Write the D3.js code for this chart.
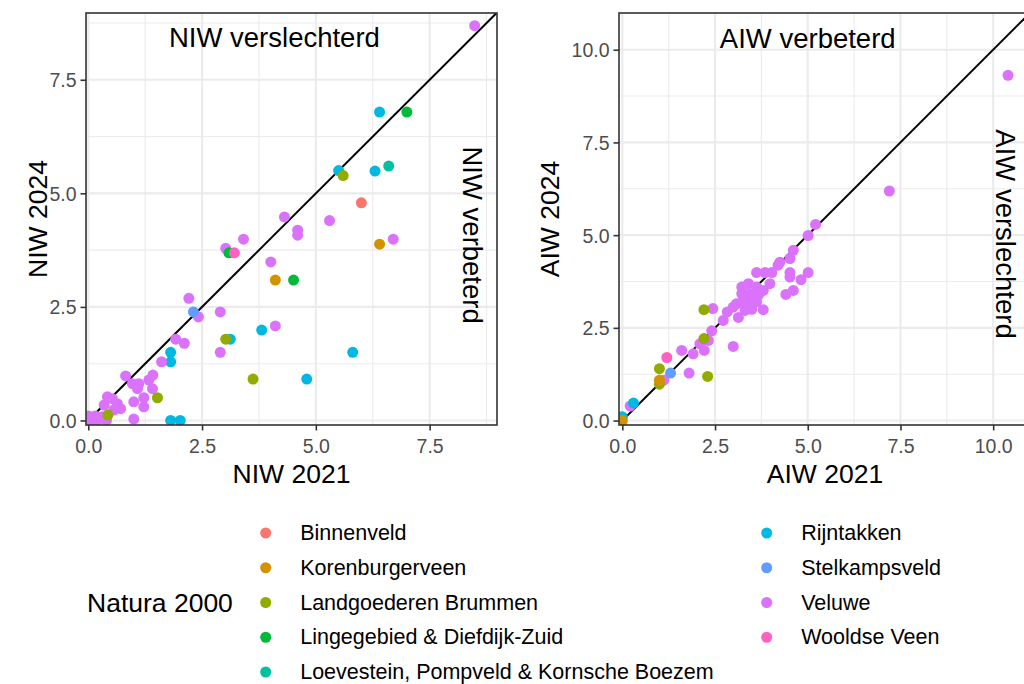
<!DOCTYPE html>
<html>
<head>
<meta charset="utf-8">
<script src="https://cdn.jsdelivr.net/npm/d3@7"></script>
<style>
  html, body { margin: 0; padding: 0; background: #fff; overflow: hidden; }
  text { font-family: "Liberation Sans", Arial, Helvetica, sans-serif; }
</style>
</head>
<body>
<svg id="chart" width="1024" height="684"></svg>
<script>
// ---- data ----
const categories = [
  "Binnenveld", "Korenburgerveen", "Landgoederen Brummen",
  "Lingegebied & Diefdijk-Zuid", "Loevestein, Pompveld & Kornsche Boezem",
  "Rijntakken", "Stelkampsveld", "Veluwe", "Wooldse Veen"
];
const palette = ["#F8766D", "#D39200", "#93AA00", "#00BA38", "#00C19F",
                 "#00B9E3", "#619CFF", "#DB72FB", "#FF61C3"];

// NIW panel: category index, NIW 2021, NIW 2024
const niwGroup = [7,5,3,5,2,5,4,0,7,1,5,5,7,7,7,7,7,3,8,7,7,1,3,7,7,6,7,5,7,5,2,7,7,7,5,5,7,2,7,7,7,7,7,7,7,7,2,7,7,7,7,7,7,7,7,7,7,7,7,7,7,7,7,2,5,5];
const niw2021  = [8.49,6.4,7.0,5.5,5.6,6.3,6.6,6.0,6.7,6.4,5.81,4.80,4.31,4.6,4.6,5.3,3.02,3.09,3.21,3.41,4.01,4.11,4.51,2.21,2.42,2.31,2.9,3.81,4.11,3.12,3.02,2.9,1.92,2.11,1.81,1.81,1.61,3.62,1.42,0.82,1.33,0.97,1.11,1.08,1.41,1.22,1.52,1.0,1.22,0.42,0.53,0.64,0.71,0.56,0.35,1.0,0.0,0.1,0.2,0.3,0.4,0.05,0.15,0.43,1.81,2.02];
const niw2024  = [8.69,6.79,6.79,5.5,5.39,5.49,5.6,4.79,3.99,3.88,1.50,0.91,4.48,4.19,4.08,4.4,3.79,3.69,3.69,3.99,3.49,3.09,3.09,2.69,2.28,2.39,2.39,1.99,2.08,1.79,1.79,1.5,1.79,1.70,1.50,1.29,1.29,0.91,1.0,0.98,0.89,0.81,0.81,0.70,0.70,0.50,0.50,0.41,0.30,0.52,0.48,0.37,0.26,0.23,0.34,0.03,0.1,0.05,0.0,0.08,0.0,0.0,0.1,0.12,0.0,0.0];

// AIW panel: category index, AIW 2021, AIW 2024
const aiwGroup = [7,7,7,7,7,7,7,7,7,7,7,7,7,7,7,7,7,7,7,7,7,7,7,7,7,7,7,7,7,7,7,7,7,7,7,7,7,7,7,7,7,7,7,7,7,7,7,7,2,2,2,2,2,8,6,1,5,5,1];
const aiw2021  = [10.4,7.2,5.21,5.01,4.61,4.52,4.2,4.25,3.62,3.85,4.03,4.52,4.52,5.01,4.82,4.61,4.41,3.98,3.22,3.4,3.62,3.8,3.22,3.44,3.67,3.26,3.49,3.62,3.08,3.31,2.99,3.8,3.31,3.49,2.83,3.13,2.72,2.44,2.41,2.99,2.32,2.09,2.21,1.91,1.6,1.8,1.12,0.21,2.2,2.2,2.3,1.0,1.0,1.2,1.3,1.0,0.3,0.0,0.0];
const aiw2024  = [9.31,6.19,5.29,4.99,4.59,4.37,4.19,4.27,3.99,3.99,3.99,3.99,3.87,3.99,3.8,3.51,3.4,3.69,3.6,3.69,3.6,3.51,3.42,3.42,3.38,3.24,3.24,3.2,3.15,3.11,3.06,2.99,2.97,3.0,2.93,2.78,2.7,3.02,2.42,2.0,2.16,2.07,1.89,1.8,1.89,1.28,1.09,0.39,2.99,2.21,1.19,1.40,0.98,1.70,1.28,1.09,0.47,0.1,0.0];

const niwMajor = [0, 2.5, 5, 7.5];
const niwMinor = [1.25, 3.75, 6.25, 8.75];
const aiwMajor = [0, 2.5, 5, 7.5, 10];
const aiwMinor = [1.25, 3.75, 6.25, 8.75];

const svg = d3.select("#chart");
const FONT = "'Liberation Sans', Arial, Helvetica, sans-serif";

function panel(cfg) {
  const x = d3.scaleLinear().domain(cfg.xDomain).range([cfg.left, cfg.right]);
  const y = d3.scaleLinear().domain(cfg.yDomain).range([cfg.bottom, cfg.top]);
  const g = svg.append("g");
  const clipId = "clip-" + cfg.id;
  svg.append("clipPath").attr("id", clipId).append("rect")
    .attr("x", cfg.left).attr("y", cfg.top)
    .attr("width", cfg.right - cfg.left).attr("height", cfg.bottom - cfg.top);

  const inner = g.append("g").attr("clip-path", `url(#${clipId})`);
  inner.append("rect").attr("x", cfg.left).attr("y", cfg.top)
    .attr("width", cfg.right - cfg.left).attr("height", cfg.bottom - cfg.top).attr("fill", "#fff");

  // minor grid
  inner.selectAll(".vminor").data(cfg.minor).join("line")
    .attr("x1", d => x(d)).attr("x2", d => x(d)).attr("y1", cfg.top).attr("y2", cfg.bottom)
    .attr("stroke", "#EBEBEB").attr("stroke-width", 1.1);
  inner.selectAll(".hminor").data(cfg.minor).join("line")
    .attr("y1", d => y(d)).attr("y2", d => y(d)).attr("x1", cfg.left).attr("x2", cfg.right)
    .attr("stroke", "#EBEBEB").attr("stroke-width", 1.1);
  // major grid
  inner.selectAll(".vmajor").data(cfg.major).join("line")
    .attr("x1", d => x(d)).attr("x2", d => x(d)).attr("y1", cfg.top).attr("y2", cfg.bottom)
    .attr("stroke", "#EBEBEB").attr("stroke-width", 2.1);
  inner.selectAll(".hmajor").data(cfg.major).join("line")
    .attr("y1", d => y(d)).attr("y2", d => y(d)).attr("x1", cfg.left).attr("x2", cfg.right)
    .attr("stroke", "#EBEBEB").attr("stroke-width", 2.1);

  // diagonal y = x
  const lo = -1, hi = 12;
  inner.append("line")
    .attr("x1", x(lo)).attr("y1", y(lo)).attr("x2", x(hi)).attr("y2", y(hi))
    .attr("stroke", "#000").attr("stroke-width", 2);

  // points
  const idx = d3.range(cfg.xs.length);
  inner.selectAll("circle").data(idx).join("circle")
    .attr("cx", i => x(cfg.xs[i])).attr("cy", i => y(cfg.ys[i]))
    .attr("r", 5.5).attr("fill", i => palette[cfg.groups[i]]);

  // annotations
  inner.append("text").attr("x", x(cfg.topNote[0])).attr("y", y(cfg.topNote[1]))
    .attr("text-anchor", "middle").attr("dominant-baseline", "central")
    .attr("font-size", 27.5).attr("fill", "#000").text(cfg.topNote[2]);
  const sx = x(cfg.sideNote[0]), sy = y(cfg.sideNote[1]);
  inner.append("text").attr("transform", `translate(${sx},${sy}) rotate(90)`)
    .attr("text-anchor", "middle").attr("dominant-baseline", "central")
    .attr("font-size", 27.5).attr("fill", "#000").text(cfg.sideNote[2]);

  // border
  g.append("rect").attr("x", cfg.left).attr("y", cfg.top)
    .attr("width", cfg.right - cfg.left).attr("height", cfg.bottom - cfg.top)
    .attr("fill", "none").attr("stroke", "#333333").attr("stroke-width", 1.6);

  // axes
  const fmt = d3.format(".1f");
  const xAxis = d3.axisBottom(x).tickValues(cfg.major).tickFormat(fmt).tickSize(5.5).tickPadding(4);
  const yAxis = d3.axisLeft(y).tickValues(cfg.major).tickFormat(fmt).tickSize(5.5).tickPadding(4);
  const gx = g.append("g").attr("transform", `translate(0,${cfg.bottom})`).call(xAxis);
  const gy = g.append("g").attr("transform", `translate(${cfg.left},0)`).call(yAxis);
  [gx, gy].forEach(a => {
    a.select(".domain").remove();
    a.selectAll(".tick line").attr("stroke", "#333333").attr("stroke-width", 1.6);
    a.selectAll(".tick text").attr("fill", "#4D4D4D").attr("font-size", 19.5).attr("font-family", FONT);
  });
  gx.selectAll(".tick text").attr("dy", "0.95em");
  gy.selectAll(".tick text").attr("dy", "0.36em");

  // axis titles
  g.append("text").attr("x", (cfg.left + cfg.right) / 2).attr("y", cfg.bottom + 58)
    .attr("text-anchor", "middle").attr("font-size", 26.5).attr("fill", "#000").text(cfg.xTitle);
  g.append("text").attr("transform", `translate(${cfg.yTitleX},${(cfg.top + cfg.bottom) / 2}) rotate(-90)`)
    .attr("text-anchor", "middle").attr("font-size", 26.5).attr("fill", "#000").text(cfg.yTitle);
}

panel({
  id: "niw", left: 86, right: 497, top: 13, bottom: 425,
  xDomain: [-0.05, 8.98], yDomain: [-0.1, 8.97],
  major: niwMajor, minor: niwMinor,
  xs: niw2021, ys: niw2024, groups: niwGroup,
  topNote: [4.09, 8.42, "NIW verslechterd"],
  sideNote: [8.44, 4.08, "NIW verbeterd"],
  xTitle: "NIW 2021", yTitle: "NIW 2024", yTitleX: 47
});

panel({
  id: "aiw", left: 619, right: 1031, top: 13, bottom: 425,
  xDomain: [-0.09, 11.02], yDomain: [-0.12, 10.99],
  major: aiwMajor, minor: aiwMinor,
  xs: aiw2021, ys: aiw2024, groups: aiwGroup,
  topNote: [5.0, 10.3, "AIW verbeterd"],
  sideNote: [10.32, 5.03, "AIW verslechterd"],
  xTitle: "AIW 2021", yTitle: "AIW 2024", yTitleX: 559
});

// legend
const legend = svg.append("g");
legend.append("text").attr("x", 87).attr("y", 603).attr("dominant-baseline", "central")
  .attr("font-size", 26.5).attr("fill", "#000").text("Natura 2000");
const rowY = d3.scalePoint().domain(d3.range(5)).range([533, 672]);
const colX = [265.7, 766.7];
categories.forEach((c, i) => {
  const col = i < 5 ? 0 : 1, row = i < 5 ? i : i - 5;
  legend.append("circle").attr("cx", colX[col]).attr("cy", rowY(row)).attr("r", 5.5).attr("fill", palette[i]);
  legend.append("text").attr("x", colX[col] + 34.5).attr("y", rowY(row)).attr("dominant-baseline", "central")
    .attr("font-size", 21.5).attr("fill", "#000").text(c);
});
</script>
</body>
</html>
